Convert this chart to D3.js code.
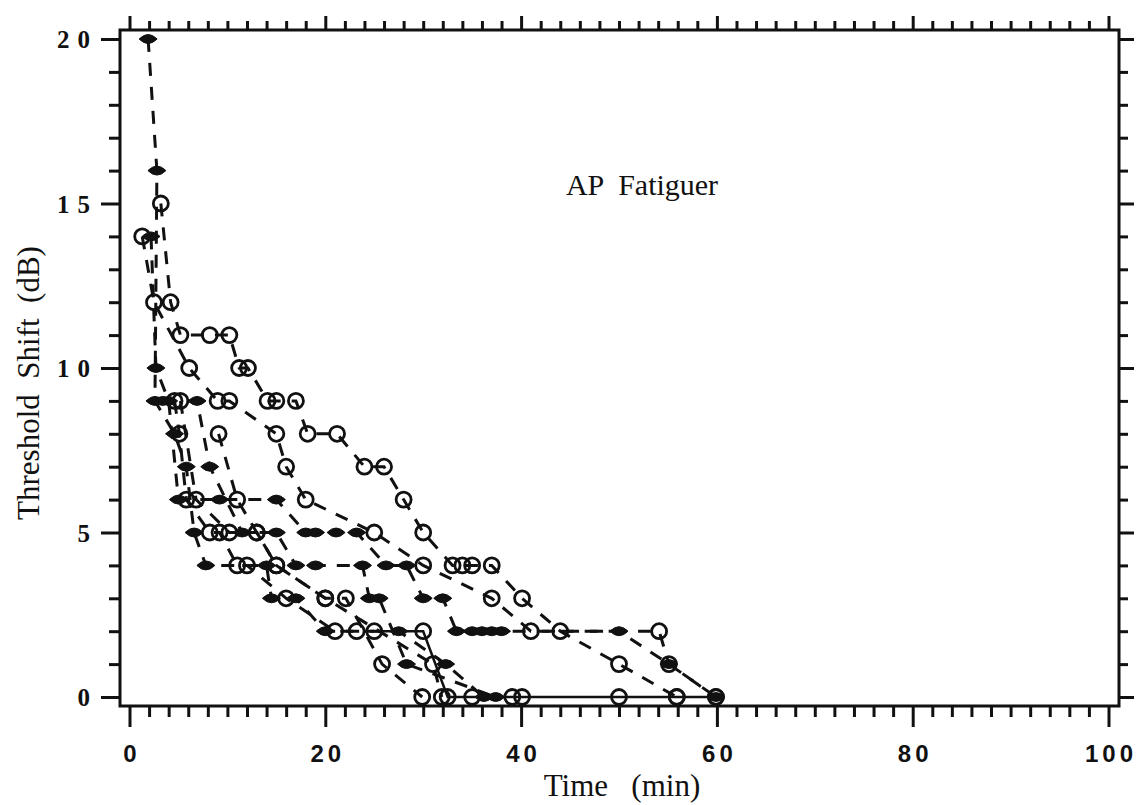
<!DOCTYPE html>
<html>
<head>
<meta charset="utf-8">
<script src="https://cdn.jsdelivr.net/npm/d3@7"></script>
<style>
  html, body { margin: 0; padding: 0; background: #fff; }
  svg { display: block; }
</style>
</head>
<body>
<svg id="chart" width="1142" height="805"></svg>
<script>
// ---------- data ----------
const xTickValues = [0, 20, 40, 60, 80, 100];
const yTickValues = [0, 5, 10, 15, 20];
const xTitle = "Time   (min)";
const yTitle = "Threshold  Shift  (dB)";
const chartTitle = "AP  Fatiguer";

// open-circle series: [time (min), threshold shift (dB)]
const circles1 = [[3.2,15],[4.2,12],[5.2,11],[8.2,11],[10.2,11],[11.2,10],[12.1,10],[14.1,9],[15,9],[17,9],[18.2,8],[21.2,8],[24,7],[26,7],[28,6],[30,5],[33,4],[34,4],[35,4],[37,4],[40.1,3],[44,2],[50,1],[55.9,0]];
const circles2 = [[1.3,14],[2.5,12],[6.1,10],[9,9],[10.2,9],[15,8],[16,7],[18,6],[25,5],[30,4],[37,3],[41,2],[54.1,2],[55.1,1],[59.9,0]];
const circles3 = [[4.6,9],[5.1,8],[5.8,6],[8.2,5],[9.2,5],[11,4],[12,4],[16,3],[21,2],[23.2,2],[25,2],[30,2],[32.5,0],[35,0],[39.1,0],[40.1,0],[50,0],[55.9,0],[59.9,0]];
const circles4 = [[5.2,9],[6.8,6],[10.2,5],[13,5],[15,4],[20,3],[22.1,3],[25.8,1],[29.9,0]];
const circles5 = [[9.1,8],[11,6],[13,5],[15,4],[20,3],[31,1],[31.9,0]];
// filled-diamond series
const diamonds1 = [[1.9,20],[2.8,16],[2.6,9],[4.6,8],[5.8,7],[6.6,5],[7.8,4],[14,4],[14.5,3],[17,3],[20,2],[27.5,2],[32.3,1],[36.2,0]];
const diamonds2 = [[2.2,14],[2.7,10],[4,9],[5,6],[9.2,6],[15,6],[18,5],[19,5],[21.1,5],[23.2,5],[26.2,4],[28.3,4],[30,3],[32,3],[33.4,2],[35,2],[36,2],[37,2],[38,2],[50,2],[55.1,1],[59.9,0]];
const diamonds3 = [[3.4,9],[6.9,9],[8.2,7],[11.5,5],[15,5],[17,4],[19,4],[23.8,4],[24.5,3],[25.5,3],[28.3,1],[37.4,0]];

// ---------- build ----------
const series = [
  {data: circles1, marker: "circle", solidFrom: null},
  {data: circles2, marker: "circle", solidFrom: null},
  {data: circles3, marker: "circle", solidFrom: 10},
  {data: circles4, marker: "circle", solidFrom: null},
  {data: circles5, marker: "circle", solidFrom: null},
  {data: diamonds1, marker: "diamond", solidFrom: null},
  {data: diamonds2, marker: "diamond", solidFrom: null},
  {data: diamonds3, marker: "diamond", solidFrom: null}
];

const svg = d3.select("#chart");
const frame = {left: 120, right: 1119, top: 30, bottom: 706};
const x = d3.scaleLinear().domain([0, 100]).range([129.5, 1108.5]);
const y = d3.scaleLinear().domain([0, 20]).range([697, 39]);
const ink = "#111";

// frame
svg.append("rect")
  .attr("x", frame.left).attr("y", frame.top)
  .attr("width", frame.right - frame.left).attr("height", frame.bottom - frame.top)
  .attr("fill", "none").attr("stroke", ink).attr("stroke-width", 3);

const xMinor = d3.range(0, 101, 2);
const yMinor = d3.range(0, 21, 1);

// bottom axis
const bottomAxis = d3.axisBottom(x).tickValues(xMinor)
  .tickSizeInner(0).tickSizeOuter(0).tickFormat("");
const gB = svg.append("g").attr("transform", `translate(0,${frame.bottom})`).call(bottomAxis);
gB.select(".domain").remove();
gB.selectAll(".tick line")
  .attr("y2", d => d % 20 === 0 ? 21 : 11)
  .attr("stroke", ink).attr("stroke-width", 3);
gB.selectAll(".tick").filter(d => xTickValues.includes(d)).append("text")
  .attr("y", 56).attr("dx", 2)
  .attr("text-anchor", "middle")
  .attr("fill", ink)
  .style("font-family", "'Liberation Sans', Arial, sans-serif")
  .style("font-weight", "bold").style("font-size", "24px")
  .style("letter-spacing", "4px")
  .text(d => d);

// top axis
const topAxis = d3.axisTop(x).tickValues(xMinor).tickSizeInner(0).tickSizeOuter(0).tickFormat("");
const gT = svg.append("g").attr("transform", `translate(0,${frame.top})`).call(topAxis);
gT.select(".domain").remove();
gT.selectAll(".tick line")
  .attr("y2", d => d % 20 === 0 ? -14 : -9)
  .attr("stroke", ink).attr("stroke-width", 3);

// left axis
const leftAxis = d3.axisLeft(y).tickValues(yMinor).tickSizeInner(0).tickSizeOuter(0).tickFormat("");
const gL = svg.append("g").attr("transform", `translate(${frame.left},0)`).call(leftAxis);
gL.select(".domain").remove();
gL.selectAll(".tick line")
  .attr("x2", d => d % 5 === 0 ? -19 : -11)
  .attr("stroke", ink).attr("stroke-width", 3);
gL.selectAll(".tick").filter(d => yTickValues.includes(d)).append("text")
  .attr("x", -22).attr("dy", "0.35em")
  .attr("text-anchor", "end")
  .attr("fill", ink)
  .style("font-family", "'Liberation Serif', 'Times New Roman', serif")
  .style("font-weight", "bold").style("font-size", "25px")
  .style("letter-spacing", "8px")
  .text(d => d);

// right axis
const rightAxis = d3.axisRight(y).tickValues(yMinor).tickSizeInner(0).tickSizeOuter(0).tickFormat("");
const gR = svg.append("g").attr("transform", `translate(${frame.right},0)`).call(rightAxis);
gR.select(".domain").remove();
gR.selectAll(".tick line")
  .attr("x2", d => d % 5 === 0 ? 15 : 9)
  .attr("stroke", ink).attr("stroke-width", 3);

// titles
svg.append("text")
  .attr("x", 622).attr("y", 796)
  .attr("xml:space", "preserve")
  .attr("text-anchor", "middle").attr("fill", ink)
  .style("font-family", "'Liberation Serif', 'Times New Roman', serif")
  .style("font-size", "31px").style("white-space", "pre")
  .text(xTitle);

svg.append("text")
  .attr("transform", "translate(39,383) rotate(-90)")
  .attr("xml:space", "preserve")
  .attr("text-anchor", "middle").attr("fill", ink)
  .style("font-family", "'Liberation Serif', 'Times New Roman', serif")
  .style("font-size", "31px").style("white-space", "pre")
  .text(yTitle);

svg.append("text")
  .attr("x", 642).attr("y", 195)
  .attr("xml:space", "preserve")
  .attr("text-anchor", "middle").attr("fill", ink)
  .style("font-family", "'Liberation Serif', 'Times New Roman', serif")
  .style("font-size", "30px").style("white-space", "pre")
  .text(chartTitle);

// lines
const line = d3.line().x(d => x(d[0])).y(d => y(d[1]));
const gLines = svg.append("g");
series.forEach(s => {
  const cut = s.solidFrom == null ? s.data.length : s.solidFrom + 1;
  gLines.append("path")
    .attr("d", line(s.data.slice(0, cut)))
    .attr("fill", "none").attr("stroke", ink).attr("stroke-width", 3)
    .attr("stroke-dasharray", "13,11");
  if (s.solidFrom != null) {
    gLines.append("path")
      .attr("d", line(s.data.slice(s.solidFrom)))
      .attr("fill", "none").attr("stroke", ink).attr("stroke-width", 2.5);
  }
});

// markers
const gMarks = svg.append("g");
series.forEach(s => {
  if (s.marker === "circle") {
    gMarks.selectAll(null).data(s.data).enter().append("circle")
      .attr("cx", d => x(d[0])).attr("cy", d => y(d[1])).attr("r", 7.5)
      .attr("fill", "none").attr("stroke", ink).attr("stroke-width", 2.8);
  } else {
    gMarks.selectAll(null).data(s.data).enter().append("path")
      .attr("transform", d => `translate(${x(d[0])},${y(d[1])})`)
      .attr("d", "M-9,0 Q0,-9 9,0 Q0,9 -9,0 Z")
      .attr("fill", ink).attr("stroke", ink).attr("stroke-width", 1);
  }
});
</script>
</body>
</html>
